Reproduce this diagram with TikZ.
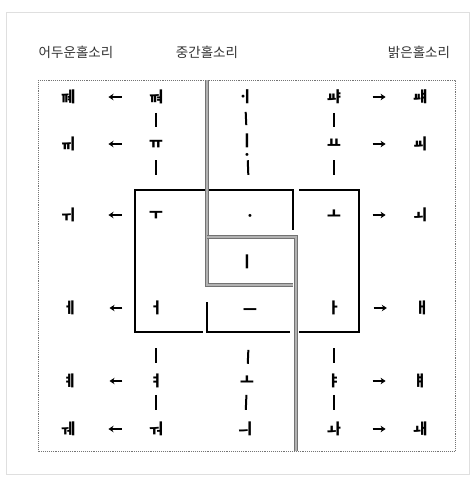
\documentclass[tikz,border=0pt]{standalone}
\usepackage{fontspec}
\newfontfamily\hangul{Noto Sans CJK KR}
\usetikzlibrary{arrows.meta,calc}

\begin{document}
\begin{tikzpicture}[
    x=1pt, y=-1pt,
    >=Stealth,
    jamo/.style={font=\hangul\bfseries\fontsize{15}{15}\selectfont, inner sep=0pt},
    heading/.style={font=\hangul\fontsize{13.5}{14}\selectfont, text=black!80, inner sep=0pt},
    harmony/.style={-{Stealth[length=5pt,width=6.5pt]}, line width=2pt},
    stem/.style={line width=2pt},
    wall/.style={line width=1.4pt},
    divider/.style={draw=black!55, double=gray!60, double distance=1.7pt, line width=0.9pt},
    frame/.style={draw=black!55, densely dotted, line width=0.9pt}
]
\useasboundingbox (0,0) rectangle (475,480);
\draw[gray!25] (6,12) rectangle (469,474);

% =========================
% Headings
% =========================
\node[heading] (darkhead) at (76,52) {어두운홀소리};
\node[heading] (midhead) at (207,52) {중간홀소리};
\node[heading] (brighthead) at (419,52) {밝은홀소리};

% =========================
% Frame and walls
% =========================
\draw[frame] (38,80) rectangle (455,451);

\draw[wall] (207,190) -- (135,190) -- (135,332) -- (203,332);
\draw[wall] (207,190) -- (293,190) -- (293,230);
\draw[wall] (299,190) -- (359,190) -- (359,332) -- (299,332);
\draw[wall] (207,302) -- (207,332) -- (290,332);

\draw[divider] (207,80) -- (207,285) -- (293,285);
\draw[divider] (207,237) -- (296,237) -- (296,451);

% =========================
% Vowels
% =========================
\node[jamo] (dk1) at (68,97) {ㆋ};
\node[jamo] (dv1) at (156,97) {ㆊ};
\node[jamo] (md1) at (245,97) {ㆎ};
\node[jamo] (bv1) at (334,97) {ㆇ};
\node[jamo] (bk1) at (420,97) {ㆈ};

\node[jamo] (dk2) at (68,144) {ㆌ};
\node[jamo] (dv2) at (156,144) {ㅠ};
\node[jamo] (md2) at (247,141) {ㅣ};
\node[jamo] (md2dot) at (247,157) {ㆍ};
\node[jamo] (bv2) at (334,144) {ㅛ};
\node[jamo] (bk2) at (420,144) {ㆉ};

\node[jamo] (dk3) at (68,215) {ㅟ};
\node[jamo] (dv3) at (156,215) {ㅜ};
\node[jamo] (md3) at (250,218) {ㆍ};
\node[jamo] (bv3) at (334,215) {ㅗ};
\node[jamo] (bk3) at (420,215) {ㅚ};

\node[jamo] (md4) at (247,262) {ㅣ};

\node[jamo] (dk5) at (70,308) {ㅔ};
\node[jamo] (dv5) at (156,308) {ㅓ};
\node[jamo] (md5) at (250,312) {ㅡ};
\node[jamo] (bv5) at (334,308) {ㅏ};
\node[jamo] (bk5) at (422,308) {ㅐ};

\node[jamo] (dk6) at (70,381) {ㅖ};
\node[jamo] (dv6) at (156,381) {ㅕ};
\node[jamo] (md6) at (247,381) {ㅗ};
\node[jamo] (bv6) at (334,381) {ㅑ};
\node[jamo] (bk6) at (420,381) {ㅒ};

\node[jamo] (dk7) at (68,429) {ㅞ};
\node[jamo] (dv7) at (156,429) {ㅝ};
\node[jamo] (md7) at (245,429) {ㅢ};
\node[jamo] (bv7) at (334,429) {ㅘ};
\node[jamo] (bk7) at (420,429) {ㅙ};

% =========================
% Harmony arrows
% =========================
\draw[harmony] ($(dv1)!0.39!(dk1)$) -- ($(dv1)!0.54!(dk1)$);
\draw[harmony] ($(dv2)!0.39!(dk2)$) -- ($(dv2)!0.54!(dk2)$);
\draw[harmony] ($(dv3)!0.39!(dk3)$) -- ($(dv3)!0.54!(dk3)$);
\draw[harmony] ($(dv5)!0.39!(dk5)$) -- ($(dv5)!0.54!(dk5)$);
\draw[harmony] ($(dv6)!0.39!(dk6)$) -- ($(dv6)!0.54!(dk6)$);
\draw[harmony] ($(dv7)!0.39!(dk7)$) -- ($(dv7)!0.54!(dk7)$);

\draw[harmony] ($(bv1)!0.45!(bk1)$) -- ($(bv1)!0.60!(bk1)$);
\draw[harmony] ($(bv2)!0.45!(bk2)$) -- ($(bv2)!0.60!(bk2)$);
\draw[harmony] ($(bv3)!0.45!(bk3)$) -- ($(bv3)!0.60!(bk3)$);
\draw[harmony] ($(bv5)!0.45!(bk5)$) -- ($(bv5)!0.60!(bk5)$);
\draw[harmony] ($(bv6)!0.45!(bk6)$) -- ($(bv6)!0.60!(bk6)$);
\draw[harmony] ($(bv7)!0.45!(bk7)$) -- ($(bv7)!0.60!(bk7)$);

% =========================
% Stems between rows
% =========================
\draw[stem] ($(dv1)!0.34!(dv2)$) -- ($(dv1)!0.64!(dv2)$);
\draw[stem] ($(md1)!0.34!(md2)$) -- ($(md1)!0.64!(md2)$);
\draw[stem] ($(bv1)!0.34!(bv2)$) -- ($(bv1)!0.64!(bv2)$);

\draw[stem] ($(dv2)!0.23!(dv3)$) -- ($(dv2)!0.44!(dv3)$);
\draw[stem] ($(md2)!0.25!(md3)$) -- ($(md2)!0.44!(md3)$);
\draw[stem] ($(bv2)!0.23!(bv3)$) -- ($(bv2)!0.44!(bv3)$);

\draw[stem] ($(dv5)!0.55!(dv6)$) -- ($(dv5)!0.75!(dv6)$);
\draw[stem] ($(md5)!0.55!(md6)$) -- ($(md5)!0.75!(md6)$);
\draw[stem] ($(bv5)!0.55!(bv6)$) -- ($(bv5)!0.75!(bv6)$);

\draw[stem] ($(dv6)!0.29!(dv7)$) -- ($(dv6)!0.60!(dv7)$);
\draw[stem] ($(md6)!0.29!(md7)$) -- ($(md6)!0.60!(md7)$);
\draw[stem] ($(bv6)!0.29!(bv7)$) -- ($(bv6)!0.60!(bv7)$);

\end{tikzpicture}
\end{document}
